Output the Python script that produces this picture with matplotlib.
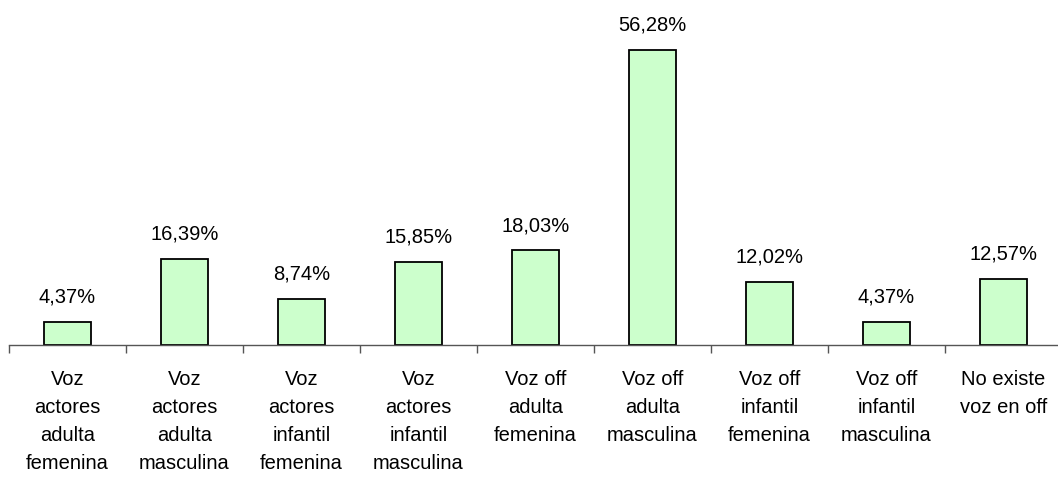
import matplotlib

matplotlib.use("Agg")

import matplotlib.pyplot as plt  # noqa: E402
import numpy as np  # noqa: E402

plt.rcParams["font.family"] = ["Liberation Sans", "DejaVu Sans"]

categories = [
    "Voz\nactores\nadulta\nfemenina",
    "Voz\nactores\nadulta\nmasculina",
    "Voz\nactores\ninfantil\nfemenina",
    "Voz\nactores\ninfantil\nmasculina",
    "Voz off\nadulta\nfemenina",
    "Voz off\nadulta\nmasculina",
    "Voz off\ninfantil\nfemenina",
    "Voz off\ninfantil\nmasculina",
    "No existe\nvoz en off",
]
values = [4.37, 16.39, 8.74, 15.85, 18.03, 56.28, 12.02, 4.37, 12.57]
labels = ["4,37%", "16,39%", "8,74%", "15,85%", "18,03%", "56,28%", "12,02%", "4,37%", "12,57%"]

fig = plt.figure(figsize=(10.58, 4.82), dpi=100)
# axis line sits at y=345px, runs from x=9px to just past the right edge
ax = fig.add_axes([9 / 1058, (482 - 345) / 482, 1053 / 1058, 345 / 482])

x = np.arange(len(values))
bars = ax.bar(x, values, width=0.41, color="#ccffcc", edgecolor="black", linewidth=1.3)
for b, lab in zip(bars, labels):
    ax.annotate(lab, (b.get_x() + b.get_width() / 2, b.get_height()),
                xytext=(0, 11), textcoords="offset points",
                ha="center", va="bottom", fontsize=14.5)

ax.set_xlim(-0.5, len(values) - 0.5)
ax.set_ylim(0, 345 / (295 / 56.28))

ax.set_xticks(x)
ax.set_xticklabels(categories, fontsize=14.5, linespacing=1.6)
ax.tick_params(axis="x", which="major", length=0, pad=18)
ax.set_xticks(np.arange(len(values)) - 0.5, minor=True)
ax.tick_params(axis="x", which="minor", length=6, width=1, color="#555555", direction="out")

ax.set_yticks([])
for side in ("left", "right", "top"):
    ax.spines[side].set_visible(False)
ax.spines["bottom"].set_color("#555555")
ax.spines["bottom"].set_linewidth(1)

fig.savefig("out.png", dpi=100)
plt.close(fig)
